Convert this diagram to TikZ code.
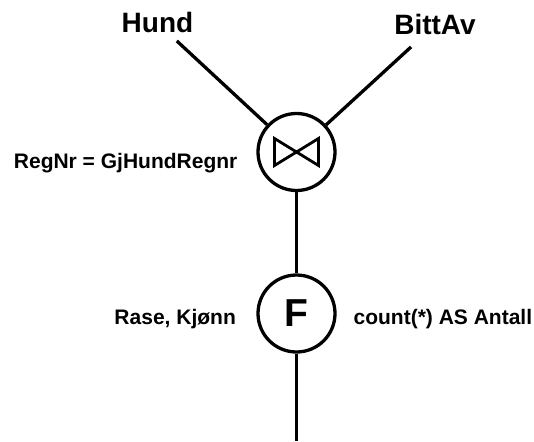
\documentclass[tikz,border=0pt]{standalone}
\usepackage{fontspec}
\setmainfont{Liberation Sans}
\usepackage{tikz}
\usetikzlibrary{positioning, shapes}

\begin{document}
\begin{tikzpicture}[x=1pt, y=-1pt, line width=3.3pt,
    rel/.style={inner sep=6pt, font=\fontsize{28}{32}\selectfont\bfseries},
    op/.style={circle, draw=black, inner sep=0pt, minimum size=77pt},
    note/.style={inner sep=0pt, font=\fontsize{21}{25}\selectfont\bfseries}]
                \useasboundingbox (0, 0) rectangle (534, 441);

                \node[rel, anchor=base] (hund) at (157.5, 33) {Hund};
                \node[rel, anchor=base] (bittav) at (435, 35) {BittAv};

                \node[op, path picture={
                    \draw[line width=2.8pt, line join=miter]
                        ([shift={(-22pt,13.5pt)}]path picture bounding box.center)
                        -- ++(44pt,-27pt) -- ++(0pt,27pt) -- ++(-44pt,-27pt) -- cycle;
                }] (join) at (296.5, 152) {};
                \node[note, anchor=base east] (cond) at (239, 168) {RegNr = GjHundRegnr};

                \node[op, font=\fontsize{39}{41}\selectfont\bfseries] (agg) at (296.5, 313.5) {F};
                \node[note, anchor=base east] (group) at (237.5, 324) {Rase, Kjønn};
                \node[note, anchor=base west] (func) at (352, 324) {count(*) AS Antall};

                \coordinate (out) at (296.5, 441);

                \draw (hund) -- (join);
                \draw[shorten <=6pt] (bittav) -- (join);
                \draw (join) -- (agg);
                \draw (agg) -- (out);
            \end{tikzpicture}
\end{document}
